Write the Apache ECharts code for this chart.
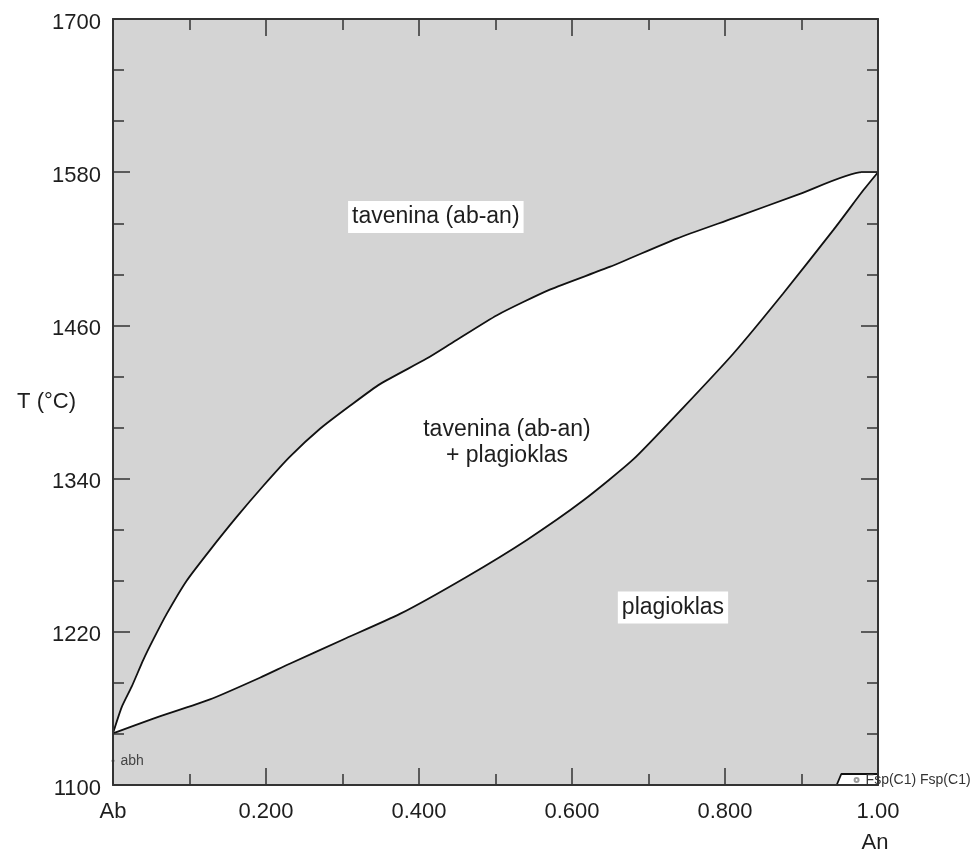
<!DOCTYPE html>
<html>
<head>
<meta charset="utf-8">
<script src="https://cdn.jsdelivr.net/npm/echarts@6/dist/echarts.min.js"></script>
<style>html,body{margin:0;padding:0;background:#fff;}#c{width:978px;height:855px;}</style>
</head>
<body>
<div id="c"></div>
<script>
// Liquidus (upper curve) : [X(An), T °C]
var liquidus = [[0,1140.5],[0.0114,1161],[0.0244,1177],[0.0396,1198],[0.0527,1214],[0.0702,1234],[0.0963,1260],[0.1268,1284],[0.1617,1310],[0.196,1334],[0.231,1357],[0.2706,1379],[0.3098,1397],[0.349,1414],[0.410,1434],[0.445,1447],[0.502,1468],[0.571,1488],[0.650,1506],[0.737,1528],[0.811,1544],[0.898,1563],[0.979,1580],[1.0,1580]];
// Solidus (lower curve)
var solidus = [[0,1140.5],[0.0527,1152],[0.1268,1167],[0.192,1184],[0.231,1195],[0.301,1214],[0.375,1234],[0.462,1263],[0.541,1292],[0.615,1323],[0.680,1355],[0.746,1396],[0.811,1438],[0.876,1485],[0.942,1535],[0.981,1566],[1.0,1580]];
// small Fsp(C1)+Fsp(C1) field at bottom right
var fspField = [[0.946,1100],[0.952,1108.6],[1.0,1108.6]];
// phase-field labels
var fieldLabels = ['tavenina (ab-an)', 'tavenina (ab-an)\n+ plagioklas', 'plagioklas'];
var fieldPos = [[0.422,1545],[0.515,1368],[0.732,1239]];
var fieldBox = [true, false, true];
// point labels
var abhPoint = [0,1119];
var fspPoint = [0.972,1104];
// axes
var xMin = 0, xMax = 1, xStep = 0.2;
var yMin = 1100, yMax = 1700, yStep = 120;
var xTickText = {0:'Ab', 1:'1.00'};

var FONT = "'Liberation Sans', Arial, Helvetica, sans-serif";
var DARK = '#1e1e1e';
var chart = echarts.init(document.getElementById('c'));

function axisCommon(showLabels) {
  return {
    z: 10,
    axisLine: {show: true, onZero: false, lineStyle: {color: '#333', width: 2}},
    axisTick: {show: true, inside: true, length: 17, lineStyle: {color: '#333', width: 1.5}},
    minorTick: {show: true, length: 11, lineStyle: {color: '#333', width: 1.5}},
    splitLine: {show: false},
    minorSplitLine: {show: false},
    axisLabel: {show: showLabels, color: DARK, fontSize: 22, fontFamily: FONT, margin: 12}
  };
}

var xB = Object.assign(axisCommon(true), {type: 'value', position: 'bottom', min: xMin, max: xMax, interval: xStep});
xB.minorTick.splitNumber = 2;
xB.axisLabel.margin = 16;
xB.axisLabel.formatter = function (v) { var k = Math.round(v*1000)/1000; return xTickText[k] !== undefined ? xTickText[k] : k.toFixed(3); };
var xT = Object.assign(axisCommon(false), {type: 'value', position: 'top', min: xMin, max: xMax, interval: xStep});
xT.minorTick.splitNumber = 2;
var yL = Object.assign(axisCommon(true), {type: 'value', position: 'left', min: yMin, max: yMax, interval: yStep});
yL.minorTick.splitNumber = 3;
yL.axisLabel.formatter = function (v) { return String(Math.round(v)); };
yL.axisLabel.verticalAlign = 'top';
yL.axisLabel.lineHeight = 7;
var yR = Object.assign(axisCommon(false), {type: 'value', position: 'right', min: yMin, max: yMax, interval: yStep});
yR.minorTick.splitNumber = 3;

var labelData = fieldLabels.map(function (t, i) {
  return {
    value: fieldPos[i],
    label: {
      show: true, position: 'inside', formatter: t, color: DARK, fontSize: 23, fontFamily: FONT,
      lineHeight: 26, align: 'center',
      backgroundColor: fieldBox[i] ? '#ffffff' : 'transparent',
      padding: fieldBox[i] ? [3, 4, 3, 4] : 0
    }
  };
});

var lineStyle = {color: '#111', width: 1.8};

chart.setOption({
  animation: false,
  grid: {left: 113, top: 19, width: 765, height: 766, show: true, backgroundColor: '#d4d4d4', borderWidth: 0},
  xAxis: [xB, xT],
  yAxis: [yL, yR],
  series: [
    {type: 'line', data: liquidus, smooth: 0.2, symbol: 'none', lineStyle: lineStyle,
     areaStyle: {color: '#ffffff', opacity: 1, origin: 'start'}, z: 2},
    {type: 'line', data: solidus, smooth: 0.2, symbol: 'none', lineStyle: lineStyle,
     areaStyle: {color: '#d4d4d4', opacity: 1, origin: 'start'}, z: 3},
    {type: 'line', data: fspField, symbol: 'none', lineStyle: lineStyle,
     areaStyle: {color: '#ffffff', opacity: 1, origin: 'start'}, z: 4},
    {type: 'scatter', data: labelData, symbolSize: 0, z: 6, silent: true, itemStyle: {opacity: 1}},
    {type: 'scatter', z: 7, silent: true, itemStyle: {opacity: 1},
     data: [
       {value: abhPoint, symbol: 'circle', symbolSize: 3, itemStyle: {color: '#666', opacity: 1},
        label: {show: true, position: 'right', distance: 6, formatter: 'abh', color: '#444', fontSize: 14, fontFamily: FONT}},
       {value: fspPoint, symbol: 'emptyCircle', symbolSize: 4, itemStyle: {color: '#999', borderColor: '#999', opacity: 1},
        label: {show: true, position: 'right', distance: 6, formatter: 'Fsp(C1) Fsp(C1)', color: '#333', fontSize: 14, fontFamily: FONT}}
     ]}
  ],
  graphic: [
    {type: 'text', x: 76, y: 402, style: {text: 'T (°C)', fill: DARK, font: '22px ' + FONT, textAlign: 'right', textVerticalAlign: 'middle'}},
    {type: 'text', x: 875, y: 843, style: {text: 'An', fill: DARK, font: '22px ' + FONT, textAlign: 'center', textVerticalAlign: 'middle'}}
  ]
});
</script>
</body>
</html>
